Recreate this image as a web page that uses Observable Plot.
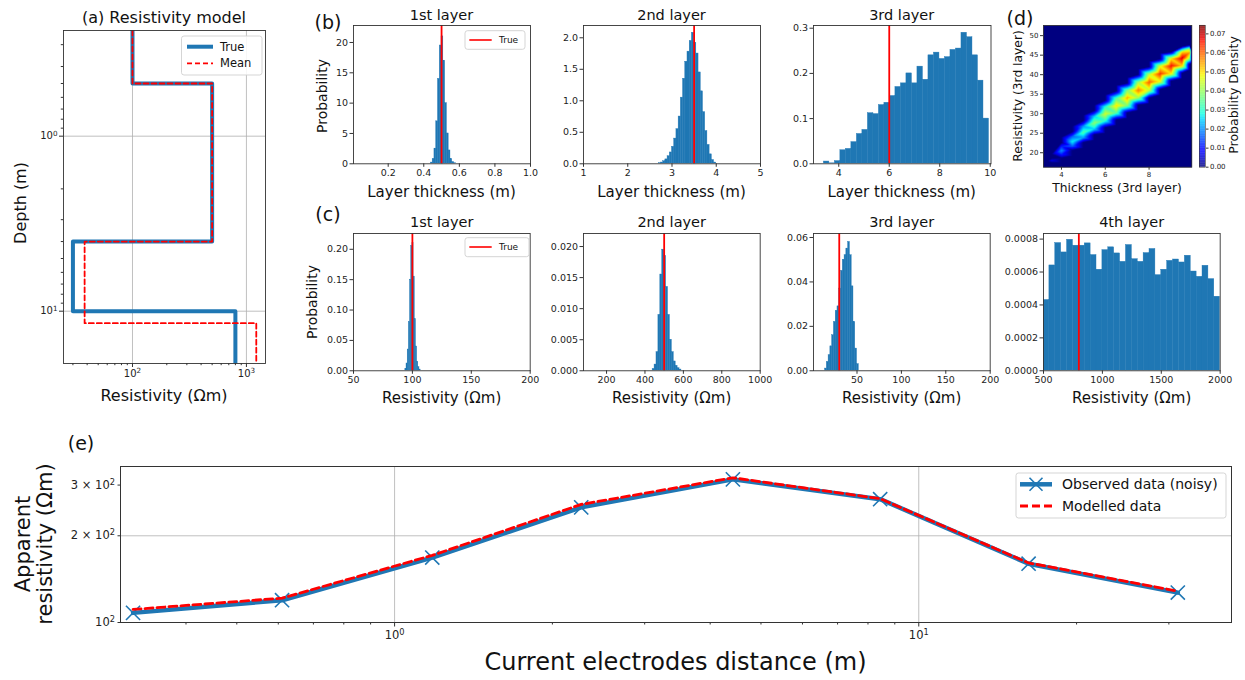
<!DOCTYPE html>
<html><head><meta charset="utf-8">
<script src="https://cdn.jsdelivr.net/npm/d3@7"></script>
<script src="https://cdn.jsdelivr.net/npm/@observablehq/plot@0.6"></script>
<style>
body{margin:0;background:#fff;}
#root{position:relative;width:1245px;height:680px;overflow:hidden;background:#fff;font-family:"DejaVu Sans",sans-serif;}
#root svg{position:absolute;overflow:visible;}
</style></head><body><div id="root"></div>
<script>
// ---------------- DATA ----------------
// (a) resistivity model
const trueRes = [100, 500, 30, 800];
const trueInterfaces = [0.5, 4.0, 10.0];
const meanRes = [100, 500, 38, 1220];
const meanInterfaces = [0.5, 4.0, 11.7];
const aResDomain = [24.8, 1470];
const aDepthDomain = [0.249, 19.9];

// (b) layer thickness histograms (density)
const thick1Start = 0.44, thick1Width = 0.01;
const thick1Hist = [0.2, 0.8, 2.5, 7, 14, 19.5, 21, 17, 10, 5, 2.2, 0.8, 0.3, 0.1];
const thick1True = 0.5;
const thick2Start = 2.70, thick2Width = 0.05;
const thick2Hist = [0.01, 0.02, 0.04, 0.07, 0.12, 0.18, 0.27, 0.40, 0.55, 0.75, 1.05, 1.35, 1.62, 1.78, 1.95, 2.08, 1.92, 1.75, 1.45, 1.15, 0.82, 0.52, 0.30, 0.15, 0.06, 0.02];
const thick2True = 3.5;
const thick3Start = 3.41, thick3Width = 0.218;
const thick3Hist = [0.005, 0.001, 0.006, 0.03, 0.033, 0.048, 0.066, 0.075, 0.112, 0.11, 0.13, 0.135, 0.15, 0.17, 0.178, 0.2, 0.178, 0.215, 0.186, 0.24, 0.246, 0.232, 0.236, 0.252, 0.255, 0.29, 0.28, 0.24, 0.184, 0.1];
const thick3True = 6;

// (c) resistivity histograms (density)
const res1Start = 94, res1Width = 1;
const res1Hist = [0.003, 0.012, 0.035, 0.08, 0.15, 0.205, 0.21, 0.155, 0.085, 0.04, 0.015, 0.006, 0.002];
const res1True = 100;
const res2Start = 440, res2Width = 10;
const res2Hist = [0.0003, 0.001, 0.003, 0.009, 0.0155, 0.0195, 0.0185, 0.0135, 0.009, 0.005, 0.003, 0.0015, 0.0008, 0.0004, 0.0002];
const res2True = 500;
const res3Start = 14, res3Width = 2;
const res3Hist = [0.001, 0.004, 0.007, 0.011, 0.016, 0.022, 0.027, 0.029, 0.037, 0.045, 0.05, 0.052, 0.055, 0.058, 0.052, 0.038, 0.022, 0.01, 0.003];
const res3True = 30;
const res4Start = 500, res4Width = 50;
const res4Hist = [0.00043, 0.00064, 0.000776, 0.000719, 0.000796, 0.00076, 0.00076, 0.000774, 0.000703, 0.000614, 0.000733, 0.00075, 0.000713, 0.000662, 0.000764, 0.000678, 0.000662, 0.000715, 0.00074, 0.000581, 0.000614, 0.000668, 0.000676, 0.000658, 0.000699, 0.000603, 0.000571, 0.000638, 0.000557, 0.00045];
const res4True = 800;

// (d) joint density of 3rd layer thickness vs resistivity (sampled across the ridge)
const dX          = [3.55, 4.0, 4.5, 5.0, 5.5, 6.0, 6.5, 7.0, 7.5, 8.0, 8.5, 9.0, 9.5, 9.85];
const dLowOuter   = [16.6, 17.4, 19.2, 21.2, 23.2, 25.0, 27.0, 28.8, 30.8, 32.6, 34.8, 37.0, 39.0, 41.2];
const dLowEdge    = [17.4, 18.6, 20.6, 22.6, 24.6, 26.4, 28.4, 30.2, 32.2, 34.0, 36.2, 38.4, 40.4, 42.6];
const dLowShoulder= [17.7, 19.6, 21.7, 23.9, 26.1, 28.2, 30.2, 32.1, 34.1, 36.0, 38.2, 40.3, 42.3, 44.1];
const dCenter     = [18.0, 20.5, 22.8, 25.2, 27.6, 29.9, 32.0, 34.0, 36.0, 38.0, 40.2, 42.2, 44.2, 45.6];
const dUpShoulder = [18.3, 21.6, 24.1, 26.7, 29.2, 31.7, 33.9, 35.9, 38.0, 40.0, 42.1, 44.0, 45.7, 46.6];
const dUpEdge     = [18.6, 22.6, 25.4, 28.2, 30.8, 33.4, 35.8, 37.8, 40.0, 42.0, 44.0, 45.8, 47.2, 47.6];
const dUpOuter    = [19.6, 24.0, 26.8, 29.6, 32.2, 34.8, 37.2, 39.2, 41.4, 43.4, 45.4, 47.2, 48.6, 49.0];
const dPeak       = [0.006, 0.02, 0.027, 0.033, 0.039, 0.045, 0.05, 0.054, 0.058, 0.061, 0.064, 0.067, 0.07, 0.055];
const dShoulder   = [0.003, 0.012, 0.017, 0.021, 0.025, 0.03, 0.034, 0.038, 0.041, 0.044, 0.047, 0.05, 0.052, 0.04];
const dZeroX = [3.18, 9.95, 3.18, 9.95, 3.35, 3.4, 3.4, 9.95, 9.95, 3.18, 6.5, 9.95, 6.5, 4.5, 8.0, 5.0, 8.0, 4.5, 8.0, 3.18, 9.95, 6.0, 9.0];
const dZeroY = [16.3, 16.3, 52.6, 52.6, 17.8, 16.6, 19.4, 45.8, 43.0, 34.0, 16.3, 30.0, 52.6, 40.0, 24.0, 16.3, 16.3, 52.6, 52.6, 25.0, 38.0, 44.0, 30.0];
const dXDomain = [3.18, 9.95];
const dYDomain = [16.3, 52.6];
const dDensityMax = 0.0744;

// (e) sounding curve
const abHalf = [0.317, 0.61, 1.18, 2.27, 4.42, 8.44, 16.2, 31.2];
const observedRho = [108, 119.5, 168, 251, 314, 268, 160, 127];
const modelledRho = [111, 121.5, 171, 257, 318, 269, 161, 128.5];
const eXDomain = [0.300, 39.5];
const eYDomain = [100, 348];

// ---------------- STYLE ----------------
const FONT = "DejaVu Sans";
const BLUE = "#1f77b4";
const AXIS = "#333";
const jetT = [0, 0.11, 0.125, 0.34, 0.375, 0.5, 0.64, 0.66, 0.89, 0.91, 1];
const jetC = ["#000080","#0000ff","#0000ff","#00dbff","#14ffe2","#7bff7b","#efff08","#ffec00","#ff1300","#e80000","#800000"];
const jetScale = {type: "linear", domain: jetT.map(t => t * dDensityMax), range: jetC, interpolate: "rgb", clamp: true};

const ROOT = document.getElementById("root");
const sup = {"-1": "⁻¹", 0: "⁰", 1: "¹", 2: "²", 3: "³"};
const pow10 = d => "10" + sup[Math.round(Math.log10(d))];
const supMap = {"⁰": "0", "¹": "1", "²": "2", "³": "3", "⁻": "−"};

// turn unicode superscripts in tick labels into raised tspans (matplotlib-like 10^n)
function fixSuperscripts(svg) {
  svg.querySelectorAll("text").forEach(t => {
    const s = t.textContent;
    const m = s.match(/^(.*?)([⁰¹²³⁻]+)$/);
    if (!m) return;
    t.textContent = m[1];
    const ts = document.createElementNS("http://www.w3.org/2000/svg", "tspan");
    ts.setAttribute("dy", "-0.5em");
    ts.setAttribute("font-size", "72%");
    ts.textContent = [...m[2]].map(c => supMap[c]).join("");
    t.appendChild(ts);
  });
}

function hist(start, width, heights) {
  return heights.map((h, i) => ({x1: start + i * width, x2: start + (i + 1) * width, y: h}));
}

function drawPanel(frame, opts) {
  const [x0, y0, x1, y1] = frame;
  const svg = Plot.plot({
    width: x1 - x0, height: y1 - y0, margin: 0,
    x: {...opts.x, axis: null}, y: {...opts.y, axis: null},
    ...(opts.color ? {color: opts.color} : {}),
    style: {fontFamily: FONT, fontSize: (opts.fs || 9.5) + "px", color: "#222", background: "transparent", overflow: "visible"},
    marks: opts.marks
  });
  svg.style.position = "absolute";
  svg.style.left = x0 + "px";
  svg.style.top = y0 + "px";
  fixSuperscripts(svg);
  ROOT.appendChild(svg);
}

function histPanel(frame, xDomain, yDomain, bins, trueVal, xTicks, xFmt, yTicks, yFmt) {
  drawPanel(frame, {
    x: {domain: xDomain}, y: {domain: yDomain},
    marks: [
      Plot.rectY(bins, {x1: "x1", x2: "x2", y: "y", fill: BLUE, stroke: BLUE, strokeWidth: 0.4, clip: true}),
      Plot.ruleX([trueVal], {stroke: "red", strokeWidth: 1.8}),
      Plot.axisX({ticks: xTicks, tickFormat: xFmt, tickSize: 3.5, tickPadding: 2, label: null, stroke: AXIS}),
      Plot.axisY({ticks: yTicks, tickFormat: yFmt, tickSize: 3.5, tickPadding: 2, label: null, stroke: AXIS}),
      Plot.frame({stroke: AXIS, strokeWidth: 0.9})
    ]
  });
}

// ---------------- (a) ----------------
function steps(res, bounds, top, bottom) {
  const edges = [top, ...bounds, bottom];
  const pts = [];
  res.forEach((r, i) => { pts.push({r, d: edges[i]}, {r, d: edges[i + 1]}); });
  return pts;
}
const truePts = steps(trueRes, trueInterfaces, aDepthDomain[0], aDepthDomain[1]);
const meanPts = steps(meanRes, meanInterfaces, aDepthDomain[0], aDepthDomain[1]);
drawPanel([63, 30, 265, 363], {
  fs: 10,
  x: {type: "log", domain: aResDomain},
  y: {type: "log", domain: aDepthDomain, reverse: true},
  marks: [
    Plot.gridX({ticks: [100, 1000], stroke: "#b0b0b0", strokeOpacity: 1, strokeWidth: 0.8}),
    Plot.gridY({ticks: [1, 10], stroke: "#b0b0b0", strokeOpacity: 1, strokeWidth: 0.8}),
    Plot.line(truePts, {x: "r", y: "d", stroke: BLUE, strokeWidth: 4, clip: true}),
    Plot.line(meanPts, {x: "r", y: "d", stroke: "red", strokeWidth: 1.8, strokeDasharray: "5,3", clip: true}),
    Plot.axisX({ticks: [100, 1000], tickFormat: pow10, tickSize: 4, tickPadding: 2, label: null, stroke: AXIS}),
    Plot.axisX({ticks: [30, 40, 50, 60, 70, 80, 90, 200, 300, 400, 500, 600, 700, 800, 900], tickFormat: () => "", tickSize: 2.2, label: null, stroke: AXIS}),
    Plot.axisY({ticks: [1, 10], tickFormat: pow10, tickSize: 4, tickPadding: 2, label: null, stroke: AXIS}),
    Plot.axisY({ticks: [0.3, 0.4, 0.5, 0.6, 0.7, 0.8, 0.9, 2, 3, 4, 5, 6, 7, 8, 9], tickFormat: () => "", tickSize: 2.2, label: null, stroke: AXIS}),
    Plot.frame({stroke: AXIS, strokeWidth: 0.9})
  ]
});

// ---------------- (b) ----------------
histPanel([353, 25, 530, 163.3], [0.005, 1.0], [0, 22.8], hist(thick1Start, thick1Width, thick1Hist), thick1True,
  [0.2, 0.4, 0.6, 0.8, 1.0], ".1f", [0, 5, 10, 15, 20], "d");
histPanel([583, 25, 760, 163.3], [1, 5], [0, 2.195], hist(thick2Start, thick2Width, thick2Hist), thick2True,
  [1, 2, 3, 4, 5], "d", [0, 0.5, 1, 1.5, 2], ".1f");
histPanel([813, 25, 990.5, 163.3], [3, 10.03], [0, 0.306], hist(thick3Start, thick3Width, thick3Hist), thick3True,
  [4, 6, 8, 10], "d", [0, 0.1, 0.2, 0.3], ".1f");

// ---------------- (c) ----------------
histPanel([353.3, 232.7, 530, 370], [50, 200], [0, 0.226], hist(res1Start, res1Width, res1Hist), res1True,
  [50, 100, 150, 200], "d", [0, 0.05, 0.1, 0.15, 0.2], ".2f");
histPanel([583.3, 232.7, 760, 370], [80, 1000], [0, 0.0221], hist(res2Start, res2Width, res2Hist), res2True,
  [200, 400, 600, 800, 1000], "d", [0, 0.005, 0.01, 0.015, 0.02], ".3f");
histPanel([813.3, 232.7, 990, 370], [1, 200], [0, 0.0618], hist(res3Start, res3Width, res3Hist), res3True,
  [50, 100, 150, 200], "d", [0, 0.02, 0.04, 0.06], ".2f");
histPanel([1043.3, 232.7, 1220, 370], [500, 2000], [0, 0.000834], hist(res4Start, res4Width, res4Hist), res4True,
  [500, 1000, 1500, 2000], "d", [0, 0.0002, 0.0004, 0.0006, 0.0008], ".4f");

// ---------------- (d) ----------------
const dPts = [];
dX.forEach((x, i) => {
  dPts.push({x, y: dLowOuter[i], v: 0}, {x, y: dLowEdge[i], v: 0}, {x, y: dLowShoulder[i], v: dShoulder[i]},
            {x, y: dCenter[i], v: dPeak[i]}, {x, y: dUpShoulder[i], v: dShoulder[i]},
            {x, y: dUpEdge[i], v: 0}, {x, y: dUpOuter[i], v: 0});
});
dZeroX.forEach((x, i) => dPts.push({x, y: dZeroY[i], v: 0}));
drawPanel([1042.7, 25, 1191, 166.7], {
  fs: 7,
  x: {domain: dXDomain}, y: {domain: dYDomain}, color: jetScale,
  marks: [
    Plot.frame({fill: "#000080"}),
    Plot.raster(dPts, {x: "x", y: "y", fill: "v", interpolate: "barycentric",
      x1: dXDomain[0], x2: dXDomain[1], y1: dYDomain[0], y2: dYDomain[1]}),
    Plot.axisX({ticks: [4, 6, 8], tickFormat: "d", tickSize: 3, tickPadding: 2, label: null, stroke: AXIS}),
    Plot.axisY({ticks: [20, 25, 30, 35, 40, 45, 50], tickFormat: "d", tickSize: 3, tickPadding: 2, label: null, stroke: AXIS}),
    Plot.frame({stroke: AXIS, strokeWidth: 0.8})
  ]
});
// colorbar
const cbStep = dDensityMax / 200;
const cbLevels = d3.range(0, dDensityMax, cbStep);
drawPanel([1199, 25, 1205, 166.7], {
  fs: 7,
  x: {domain: [0, 1]}, y: {domain: [0, dDensityMax]}, color: jetScale,
  marks: [
    Plot.rect(cbLevels, {x1: 0, x2: 1, y1: d => d, y2: d => d + cbStep * 1.05, fill: d => d + cbStep / 2}),
    Plot.axisY({anchor: "right", ticks: [0, 0.01, 0.02, 0.03, 0.04, 0.05, 0.06, 0.07], tickFormat: ".2f", tickSize: 2.5, tickPadding: 2, label: null, stroke: AXIS}),
    Plot.frame({stroke: AXIS, strokeWidth: 0.6})
  ]
});

// ---------------- (e) ----------------
const obsData = abHalf.map((a, i) => ({a, rho: observedRho[i]}));
const modData = abHalf.map((a, i) => ({a, rho: modelledRho[i]}));
const eFmt = {100: "10²", 200: "2 × 10²", 300: "3 × 10²"};
drawPanel([120, 466, 1231, 622], {
  fs: 11.5,
  x: {type: "log", domain: eXDomain}, y: {type: "log", domain: eYDomain},
  marks: [
    Plot.gridX({ticks: [1, 10], stroke: "#b0b0b0", strokeOpacity: 1, strokeWidth: 0.8}),
    Plot.gridY({ticks: [200], stroke: "#b0b0b0", strokeOpacity: 1, strokeWidth: 0.8}),
    Plot.line(obsData, {x: "a", y: "rho", stroke: BLUE, strokeWidth: 4.5}),
    Plot.dot(obsData, {x: "a", y: "rho", symbol: "times", r: 6.5, stroke: BLUE, strokeWidth: 1.6}),
    Plot.line(modData, {x: "a", y: "rho", stroke: "red", strokeWidth: 2.8, strokeDasharray: "8,4"}),
    Plot.axisX({ticks: [1, 10], tickFormat: pow10, tickSize: 4.5, tickPadding: 4, label: null, stroke: AXIS}),
    Plot.axisX({ticks: [0.4, 0.5, 0.6, 0.7, 0.8, 0.9, 2, 3, 4, 5, 6, 7, 8, 9, 20, 30], tickFormat: () => "", tickSize: 2.5, label: null, stroke: AXIS}),
    Plot.axisY({ticks: [100, 200, 300], tickFormat: d => eFmt[d], tickSize: 2.5, tickPadding: 3, label: null, stroke: AXIS}),
    Plot.frame({stroke: AXIS, strokeWidth: 1})
  ]
});

// ---------------- TEXT / LEGENDS OVERLAY ----------------
const ov = d3.select(ROOT).append("svg").attr("width", 1245).attr("height", 680)
  .style("left", "0px").style("top", "0px").style("font-family", FONT);
function txt(x, y, s, size, o = {}) {
  const t = ov.append("text").attr("x", x).attr("y", y).attr("font-size", size)
    .attr("text-anchor", o.anchor || "middle").attr("dominant-baseline", "central").attr("fill", "#111").text(s);
  if (o.rotate) t.attr("transform", `rotate(-90 ${x} ${y})`);
}
function legendBox(x0, y0, x1, y1) {
  ov.append("rect").attr("x", x0).attr("y", y0).attr("width", x1 - x0).attr("height", y1 - y0).attr("rx", 2.5)
    .attr("fill", "#fff").attr("fill-opacity", 0.85).attr("stroke", "#d0d0d0").attr("stroke-width", 0.9);
}
function legendLine(x0, x1, y, color, w, dash) {
  const l = ov.append("line").attr("x1", x0).attr("x2", x1).attr("y1", y).attr("y2", y).attr("stroke", color).attr("stroke-width", w);
  if (dash) l.attr("stroke-dasharray", dash);
}

// (a)
txt(164, 17, "(a) Resistivity model", 16);
txt(164, 395, "Resistivity (Ωm)", 16);
txt(20, 203, "Depth (m)", 16, {rotate: true});
legendBox(181.5, 36, 262, 75);
legendLine(187, 213, 46.7, BLUE, 4);
legendLine(187, 213, 63.3, "red", 1.8, "5,3");
txt(220, 46.7, "True", 11.5, {anchor: "start"});
txt(220, 63.3, "Mean", 11.5, {anchor: "start"});

// (b)
txt(328, 22, "(b)", 19);
txt(441.5, 15, "1st layer", 14.5);
txt(671.5, 15, "2nd layer", 14.5);
txt(901.7, 15, "3rd layer", 14.5);
txt(441.5, 192, "Layer thickness (m)", 15);
txt(671.5, 192, "Layer thickness (m)", 15);
txt(901.7, 192, "Layer thickness (m)", 15);
txt(321.7, 96, "Probability", 14, {rotate: true});
legendBox(465, 30.7, 525, 49.3);
legendLine(469.3, 491.7, 40, "red", 1.6);
txt(499, 40, "True", 9, {anchor: "start"});

// (c)
txt(328, 214, "(c)", 19);
txt(441.7, 221.7, "1st layer", 14.5);
txt(671.7, 221.7, "2nd layer", 14.5);
txt(901.7, 221.7, "3rd layer", 14.5);
txt(1131.7, 221.7, "4th layer", 14.5);
[441.7, 671.7, 901.7, 1131.7].forEach(x => txt(x, 398, "Resistivity (Ωm)", 15));
txt(311.7, 302, "Probability", 14, {rotate: true});
legendBox(465, 237.7, 529, 256.7);
legendLine(469.3, 491.7, 247, "red", 1.6);
txt(499, 247, "True", 9, {anchor: "start"});

// (d)
txt(1020, 18, "(d)", 19);
txt(1117, 188, "Thickness (3rd layer)", 12.3);
txt(1018, 96, "Resistivity (3rd layer)", 12.3, {rotate: true});
txt(1233, 95, "Probability Density", 12.5, {rotate: true});

// (e)
txt(81, 443, "(e)", 19);
txt(675.5, 662, "Current electrodes distance (m)", 24);
txt(23, 544, "Apparent", 21, {rotate: true});
txt(45, 544, "resistivity (Ωm)", 21, {rotate: true});
legendBox(1016, 473, 1226, 518);
legendLine(1020, 1052, 484.3, BLUE, 4.5);
ov.append("path").attr("d", "M1029.5,477.8L1042.5,490.8M1029.5,490.8L1042.5,477.8").attr("stroke", BLUE).attr("stroke-width", 1.6);
legendLine(1020, 1052, 506, "red", 2.8, "8,4");
txt(1062, 484.3, "Observed data (noisy)", 14, {anchor: "start"});
txt(1062, 506, "Modelled data", 14, {anchor: "start"});
</script></body></html>
